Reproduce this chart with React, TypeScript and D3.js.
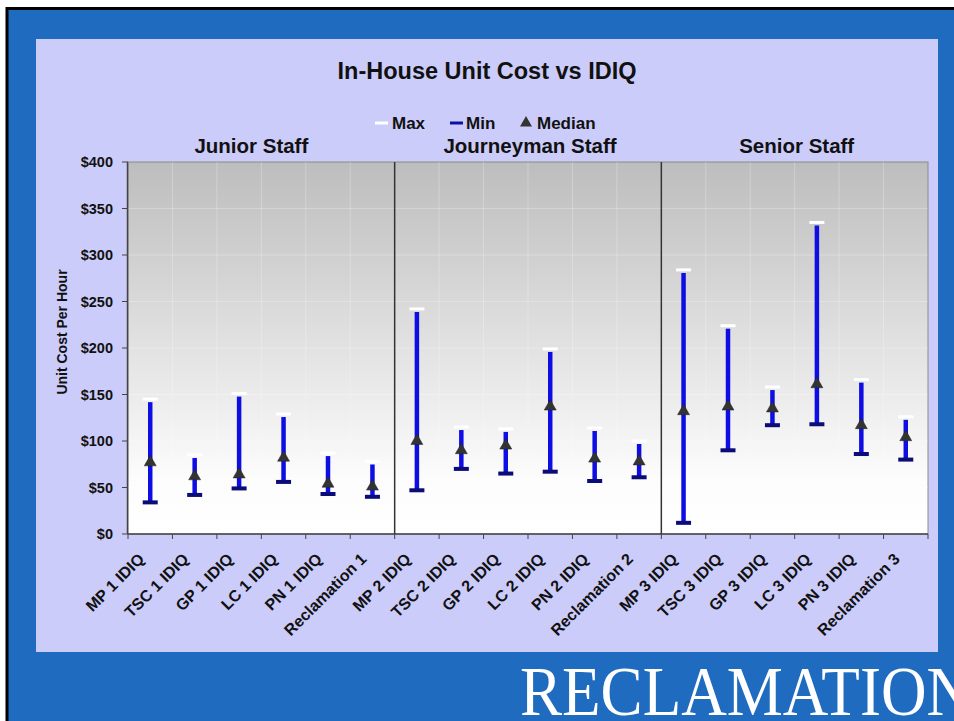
import React from "react";
import * as d3 from "d3";

const categories = [
  "MP 1 IDIQ", "TSC 1 IDIQ", "GP 1 IDIQ", "LC 1 IDIQ", "PN 1 IDIQ", "Reclamation 1",
  "MP 2 IDIQ", "TSC 2 IDIQ", "GP 2 IDIQ", "LC 2 IDIQ", "PN 2 IDIQ", "Reclamation 2",
  "MP 3 IDIQ", "TSC 3 IDIQ", "GP 3 IDIQ", "LC 3 IDIQ", "PN 3 IDIQ", "Reclamation 3",
];
const maxValues = [145, 85, 151, 129, 87, 78, 242, 115, 113, 199, 114, 100, 284, 224, 158, 335, 166, 126];
const minValues = [34, 42, 49, 56, 43, 40, 47, 70, 65, 67, 57, 61, 12, 90, 117, 118, 86, 80];
const medianValues = [77, 62, 64, 82, 54, 51, 100, 90, 95, 137, 81, 78, 132, 137, 135, 161, 117, 104];
const groups = ["Junior Staff", "Journeyman Staff", "Senior Staff"];
const yTicks = [0, 50, 100, 150, 200, 250, 300, 350, 400];

const W = 954, H = 721;
const plot = { left: 128, right: 928, top: 162, bottom: 534 };
const font = "Arial, 'Liberation Sans', Helvetica, sans-serif";

export default function App() {
  const x = d3.scaleBand<string>().domain(categories).range([plot.left, plot.right]).padding(0);
  const y = d3.scaleLinear().domain([0, 400]).range([plot.bottom, plot.top]);
  const bw = x.bandwidth();
  const groupOffsets = [-10, 2, 2];
  const groupX = groups.map((_, g) => {
    const a = x(categories[g * 6])!;
    const b = x(categories[g * 6 + 5])! + bw;
    return (a + b) / 2 + groupOffsets[g];
  });
  const boundaries = d3.range(categories.length + 1).map((i) => plot.left + i * bw);
  const tri = d3.symbol().type(d3.symbolTriangle).size(62)();

  return (
    <div style={{ position: "fixed", left: 0, top: 0 }}>
      <svg width={W} height={H} style={{ display: "block" }}>
        <defs>
          <linearGradient id="pg" x1="0" y1="0" x2="0" y2="1">
            <stop offset="0" stopColor="#bdbdbd" />
            <stop offset="0.85" stopColor="#fcfcfc" />
            <stop offset="1" stopColor="#ffffff" />
          </linearGradient>
        </defs>
        <rect x={0} y={0} width={W} height={H} fill="#ffffff" />
        <rect x={7} y={8.5} width={W + 20} height={H + 20} fill="#1f6bbf" stroke="#000" strokeWidth={3} />
        <rect x={36} y={39} width={902} height={613} fill="#ccccfa" />

        <text x={487} y={79} textAnchor="middle" fontFamily={font} fontWeight="bold" fontSize={23.5} fill="#111">
          In-House Unit Cost vs IDIQ
        </text>

        {/* legend */}
        <g fontFamily={font} fontWeight="bold" fontSize={17} fill="#111">
          <rect x={375} y={121.5} width={13} height={3} fill="#ffffff" />
          <text x={392} y={129}>Max</text>
          <rect x={450} y={121.5} width={13} height={3} fill="#1010a0" />
          <text x={466} y={129}>Min</text>
          <path d={tri} transform="translate(526,123)" fill="#333" />
          <text x={537} y={129}>Median</text>
        </g>

        {groups.map((g, i) => (
          <text key={g} x={groupX[i]} y={153} textAnchor="middle" fontFamily={font} fontWeight="bold" fontSize={20.5} fill="#111">
            {g}
          </text>
        ))}

        {/* plot area */}
        <rect x={plot.left} y={plot.top} width={plot.right - plot.left} height={plot.bottom - plot.top} fill="url(#pg)" stroke="#8a8a8a" strokeWidth={1} />
        {boundaries.slice(1, -1).map((bx, i) => (
          <line key={"vg" + i} x1={bx} x2={bx} y1={plot.top} y2={plot.bottom} stroke="#ffffff" strokeOpacity={0.25} strokeWidth={1} />
        ))}
        {yTicks.slice(1, -1).map((t) => (
          <line key={"hg" + t} x1={plot.left} x2={plot.right} y1={y(t)} y2={y(t)} stroke="#ffffff" strokeOpacity={0.25} strokeWidth={1} />
        ))}
        {[6, 12].map((i) => (
          <line key={"sep" + i} x1={boundaries[i]} x2={boundaries[i]} y1={plot.top} y2={plot.bottom} stroke="#333" strokeWidth={1.5} />
        ))}

        {/* axes */}
        <line x1={plot.left - 0.5} x2={plot.left - 0.5} y1={plot.top} y2={plot.bottom} stroke="#444" strokeWidth={1.5} />
        <line x1={plot.left} x2={plot.right} y1={plot.bottom} y2={plot.bottom} stroke="#444" strokeWidth={1.5} />
        {yTicks.map((t) => (
          <g key={"yt" + t}>
            <line x1={plot.left - 6} x2={plot.left} y1={y(t)} y2={y(t)} stroke="#444" strokeWidth={1} />
            <text x={113} y={y(t) + 5} textAnchor="end" fontFamily={font} fontWeight="bold" fontSize={14.5} fill="#111">
              {"$" + t}
            </text>
          </g>
        ))}
        {boundaries.map((bx, i) => (
          <line key={"xt" + i} x1={bx} x2={bx} y1={plot.bottom} y2={plot.bottom + 5} stroke="#444" strokeWidth={1} />
        ))}
        <text transform={`translate(67,${332}) rotate(-90)`} textAnchor="middle" fontFamily={font} fontWeight="bold" fontSize={14} fill="#111">
          Unit Cost Per Hour
        </text>
        {categories.map((c) => (
          <text
            key={"xl" + c}
            transform={`translate(${x(c)! + bw / 2 - 5},${plot.bottom + 26}) rotate(-45)`}
            textAnchor="end"
            fontFamily={font}
            fontWeight="bold"
            fontSize={16}
            fill="#111"
          >
            {c}
          </text>
        ))}

        {/* error bars */}
        {categories.map((c, i) => {
          const cx = x(c)! + bw / 2;
          return (
            <g key={"bar" + c}>
              <line x1={cx} x2={cx} y1={y(minValues[i])} y2={y(maxValues[i]) + 3} stroke="#0e0ee4" strokeWidth={4.5} />
              <rect x={cx - 7.5} y={y(minValues[i]) - 2} width={15} height={4} fill="#0c0c78" />
              <rect x={cx - 7.5} y={y(maxValues[i]) - 1.5} width={15} height={3} fill="#ffffff" />
              <path d={tri} transform={`translate(${cx},${y(medianValues[i])})`} fill="#333" stroke="#222" strokeWidth={0.5} />
            </g>
          );
        })}

        <text
          x={520}
          y={715}
          fontFamily="'Liberation Serif', 'Times New Roman', serif"
          fontSize={70}
          fill="#ffffff"
          textLength={452}
          lengthAdjust="spacingAndGlyphs"
        >
          RECLAMATION
        </text>
      </svg>
    </div>
  );
}
